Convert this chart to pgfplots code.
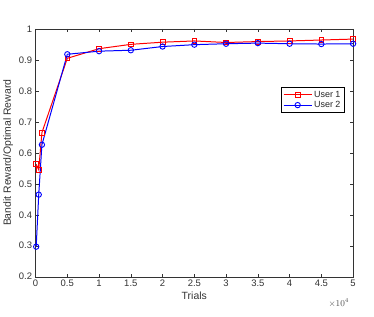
\documentclass[border=0pt]{standalone}
\usepackage{fontspec}
\setmainfont{Liberation Sans}
\usepackage{pgfplots}
\pgfplotsset{compat=1.18}
\begin{document}
\begin{tikzpicture}[x=1pt,y=1pt]
\begin{axis}[
  at={(0,0)}, anchor=south west,
  scale only axis, width=319pt, height=249pt,
  xmin=0, xmax=50000, ymin=0.2, ymax=1,
  xtick={0,5000,10000,15000,20000,25000,30000,35000,40000,45000,50000},
  ytick={0.2,0.3,0.4,0.5,0.6,0.7,0.8,0.9,1},
  scaled x ticks=base 10:-4,
  xtick scale label code/.code={$\times 10^{4}$},
  every x tick scale label/.style={at={(rel axis cs:0.955,0)}, anchor=north, yshift=-22pt, inner sep=0pt, font=\fontsize{9}{10}\selectfont, text=black!70},
  xticklabel style={/pgf/number format/fixed},
  yticklabel style={/pgf/number format/fixed, /pgf/number format/precision=1},
  /pgf/number format/assume math mode=true,
  tick align=inside, tick pos=both,
  major tick length=3pt,
  tick style={black!80, line width=0.4pt},
  axis line style={black!80, line width=0.4pt},
  ticklabel style={font=\fontsize{9.5}{10}\selectfont, text=black!80},
  xlabel={Trials}, ylabel={Bandit Reward/Optimal Reward},
  label style={font=\fontsize{10.5}{12}\selectfont, text=black!80},
  xlabel style={yshift=2pt},
  ylabel style={yshift=-1pt},
  legend style={at={(0.972,0.764)}, anchor=north east, font=\fontsize{9}{10}\selectfont, draw=black, line width=0.5pt, inner sep=1.5pt, row sep=-1.5pt, text=black!85},
  legend cell align=left,
  legend image code/.code={\draw[mark repeat=2,mark phase=2,#1] plot coordinates {(0pt,0pt) (14pt,0pt) (28pt,0pt)};},
]
\addplot[red, line width=1pt, mark=square, mark size=2.4pt, mark options={line width=0.8pt}] coordinates {
(100,0.563) (500,0.545) (1000,0.665) (5000,0.905) (10000,0.936) (15000,0.950) (20000,0.957) (25000,0.961) (30000,0.956) (35000,0.959) (40000,0.961) (45000,0.964) (50000,0.967)};
\addlegendentry{User 1}
\addplot[blue, line width=1pt, mark=o, mark size=2.7pt, mark options={line width=0.9pt}] coordinates {
(100,0.297) (500,0.465) (1000,0.626) (5000,0.918) (10000,0.928) (15000,0.931) (20000,0.943) (25000,0.949) (30000,0.952) (35000,0.954) (40000,0.952) (45000,0.951) (50000,0.952)};
\addlegendentry{User 2}
\end{axis}
\useasboundingbox (-34,-40) rectangle (340,278);
\end{tikzpicture}
\end{document}
